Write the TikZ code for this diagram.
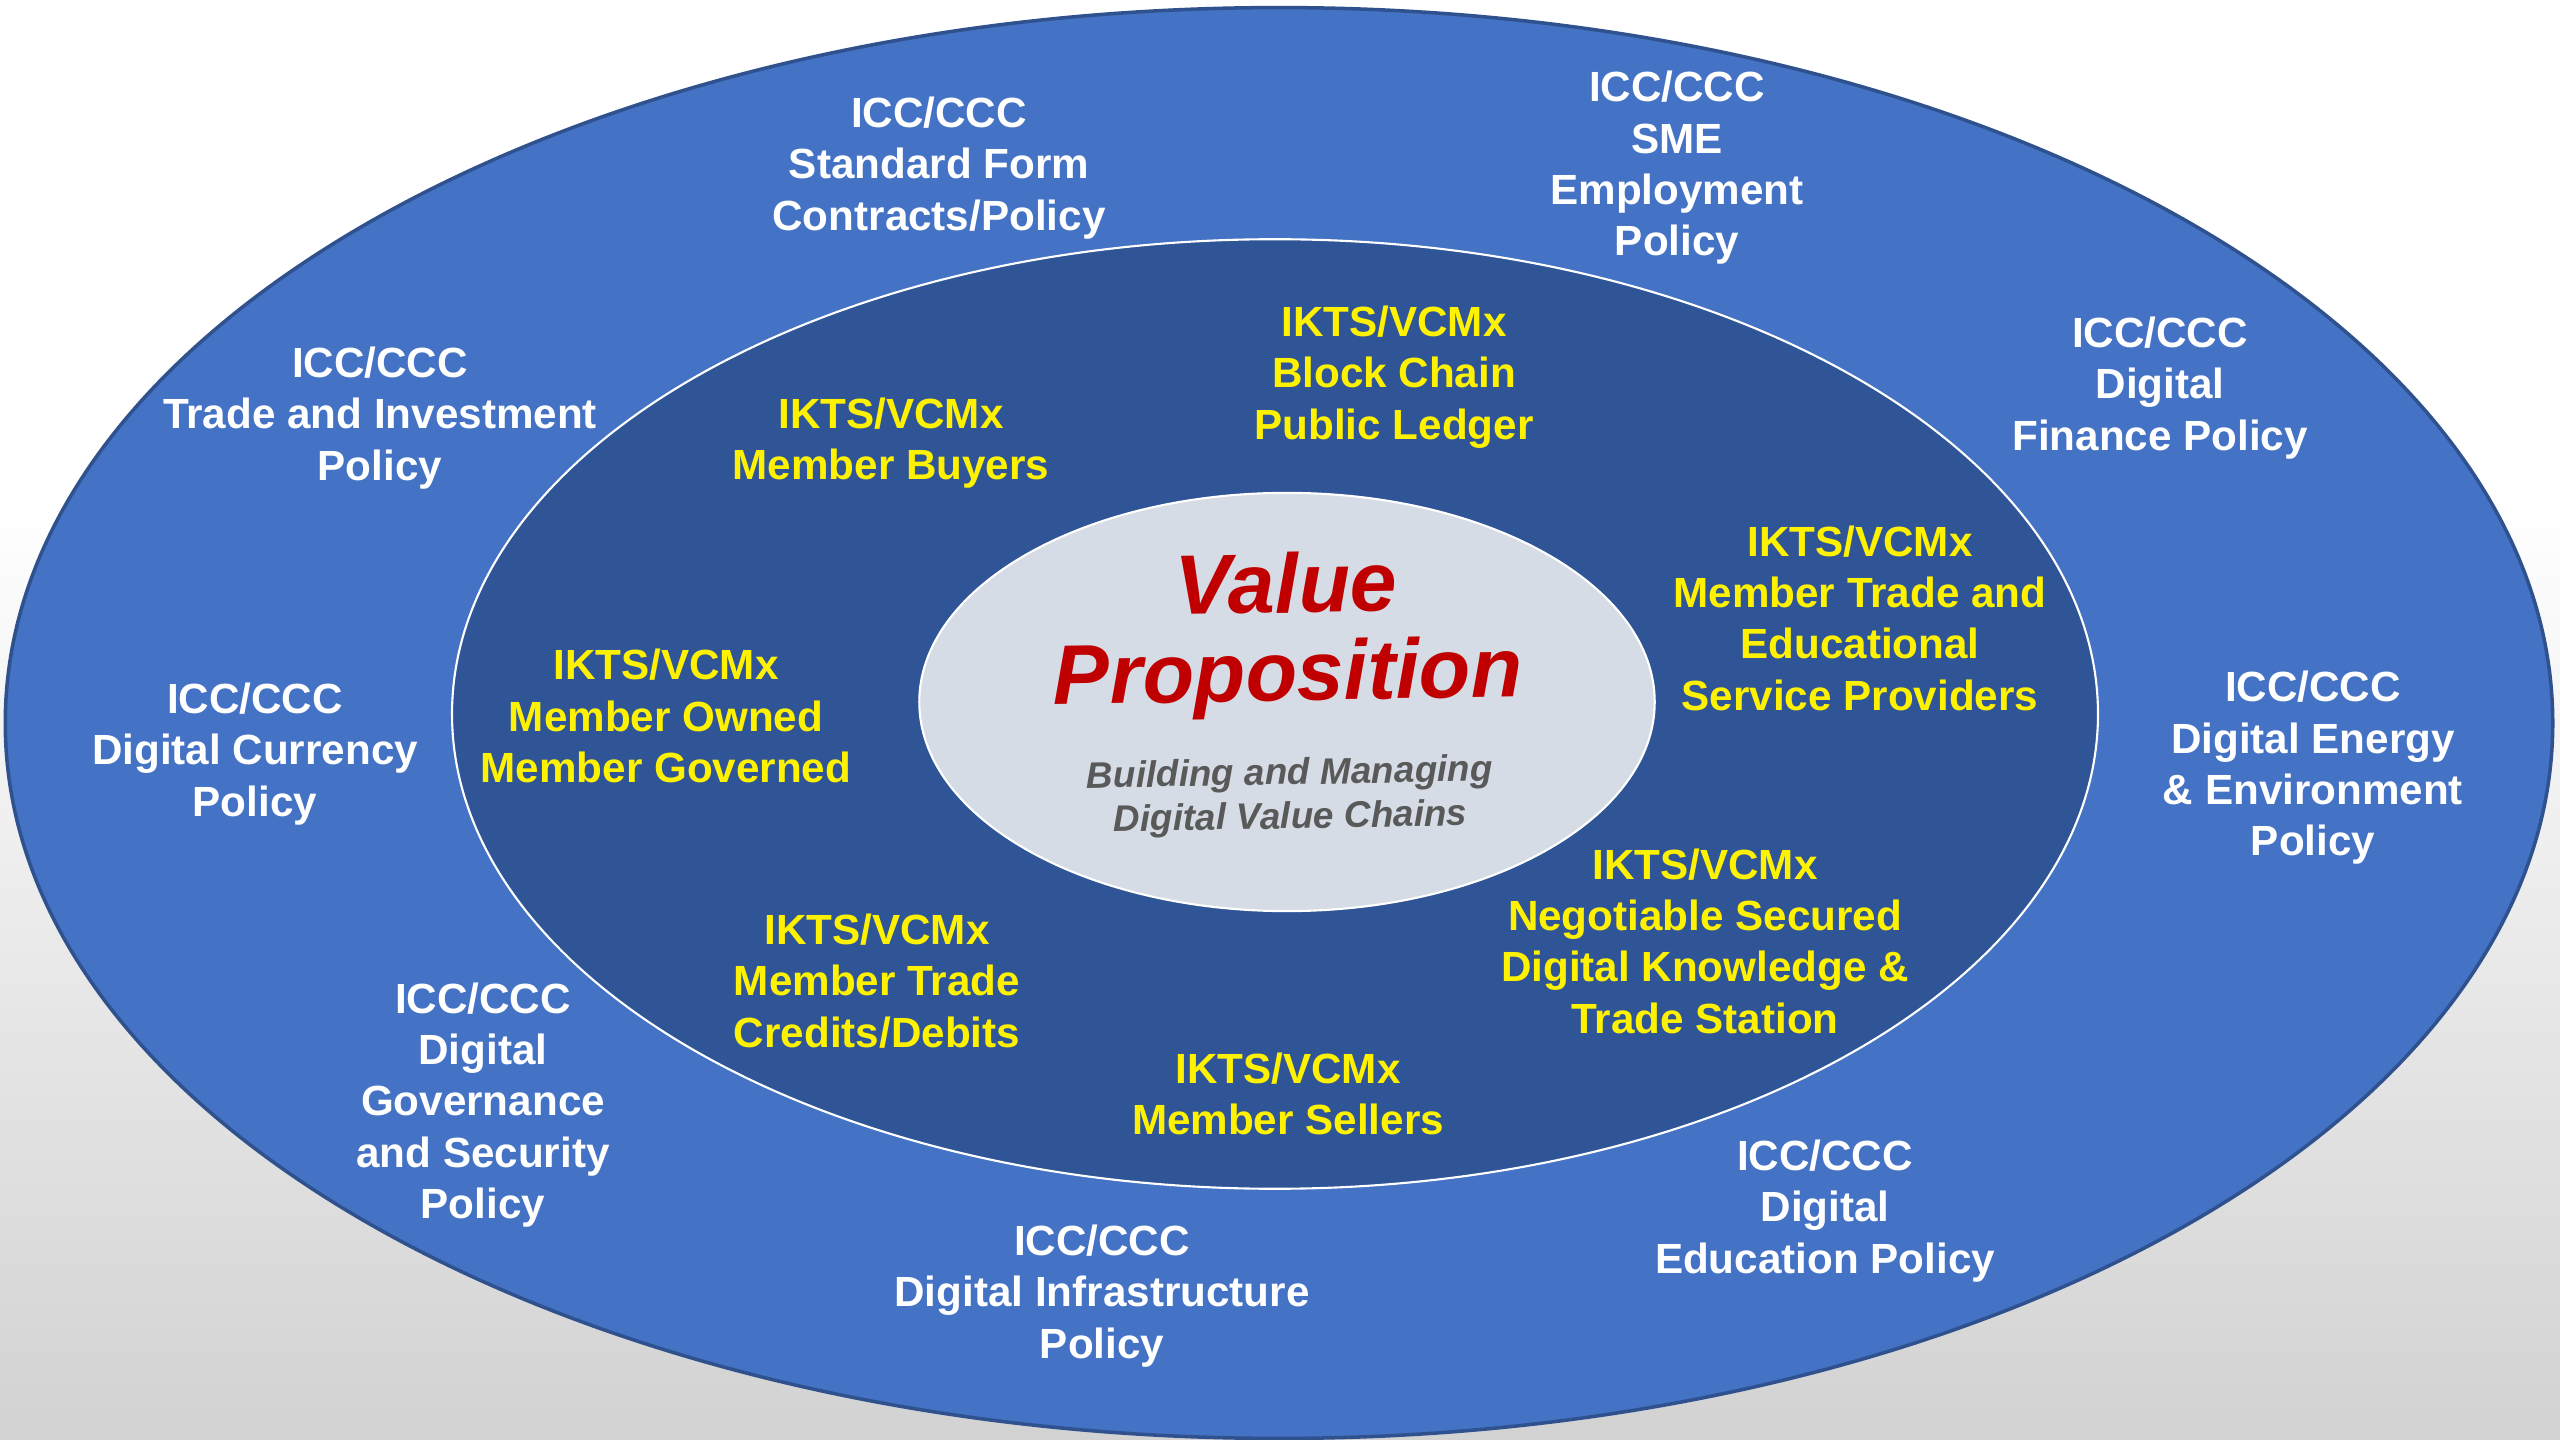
\documentclass[tikz,border=0pt]{standalone}
\usepackage{fontspec}
\setmainfont{Liberation Sans}
\usetikzlibrary{shapes.geometric}

\definecolor{outerblue}{HTML}{4472C4}
\definecolor{outerline}{HTML}{2F528F}
\definecolor{ringblue}{HTML}{2F5597}
\definecolor{coregray}{HTML}{D6DCE5}
\definecolor{valuered}{HTML}{C00000}
\definecolor{subgray}{HTML}{595959}
\definecolor{bggray}{HTML}{D2D2D2}

\tikzset{
  policy/.style={text=white, font=\fontsize{12}{14.6}\selectfont\bfseries, align=center, inner sep=0pt, yshift=-0.03cm},
  member/.style={text=yellow, font=\fontsize{12}{14.6}\selectfont\bfseries, align=center, inner sep=0pt, yshift=-0.03cm},
  ring/.style={ellipse, inner sep=0pt}
}

\begin{document}
\begin{tikzpicture}[x=0.01cm, y=-0.01cm]
\useasboundingbox (0,0) rectangle (2560,1440);
\fill[white] (0,0) rectangle (2560,1440);
\shade[top color=white, bottom color=bggray] (0,500) rectangle (2560,1440);

% rings
\node[ring, draw=outerline, line width=1pt, fill=outerblue, minimum width=25.46cm, minimum height=14.3cm] (outer) at (1279,723) {};
\node[ring, draw=white, line width=0.6pt, fill=ringblue, minimum width=16.45cm, minimum height=9.49cm] (middle) at (1275,714) {};
\node[ring, draw=white, line width=0.6pt, fill=coregray, minimum width=7.35cm, minimum height=4.18cm] (core) at (1287,702) {};

% centre
\node[text=valuered, font=\fontsize{24}{25}\selectfont\bfseries\itshape, align=center, inner sep=0pt, rotate=1, yshift=-0.08cm] (value) at (1287,627) {Value\\Proposition};
\node[text=subgray, font=\fontsize{10.5}{12.5}\selectfont\bfseries\itshape, align=center, inner sep=0pt, rotate=1, yshift=-0.06cm] (chains) at (1290,791) {Building and Managing\\Digital Value Chains};

% IKTS/VCMx members
\node[member] (buyers) at (891,440) {IKTS/VCMx\\Member Buyers};
\node[member] (ledger) at (1394,374) {IKTS/VCMx\\Block Chain\\Public Ledger};
\node[member] (providers) at (1860,615) {IKTS/VCMx\\Member Trade and\\Educational\\Service Providers};
\node[member] (owned) at (666,713) {IKTS/VCMx\\Member Owned\\Member Governed};
\node[member] (station) at (1705,938) {IKTS/VCMx\\Negotiable Secured\\Digital Knowledge \&\\Trade Station};
\node[member] (credits) at (877,978) {IKTS/VCMx\\Member Trade\\Credits/Debits};
\node[member] (sellers) at (1288,1091) {IKTS/VCMx\\Member Sellers};

% ICC/CCC policies
\node[policy] (contracts) at (939,165) {ICC/CCC\\Standard Form\\Contracts/Policy};
\node[policy] (sme) at (1677,165) {ICC/CCC\\SME\\Employment\\Policy};
\node[policy] (finance) at (2160,385) {ICC/CCC\\Digital\\Finance Policy};
\node[policy] (trade) at (380,415) {ICC/CCC\\Trade and Investment\\Policy};
\node[policy] (currency) at (255,751) {ICC/CCC\\Digital Currency\\Policy};
\node[policy] (energy) at (2313,765) {ICC/CCC\\Digital Energy\\\& Environment\\Policy};
\node[policy] (governance) at (483,1102) {ICC/CCC\\Digital\\Governance\\and Security\\Policy};
\node[policy] (infra) at (1102,1293) {ICC/CCC\\Digital Infrastructure\\Policy};
\node[policy] (education) at (1825,1208) {ICC/CCC\\Digital\\Education Policy};
\end{tikzpicture}
\end{document}
